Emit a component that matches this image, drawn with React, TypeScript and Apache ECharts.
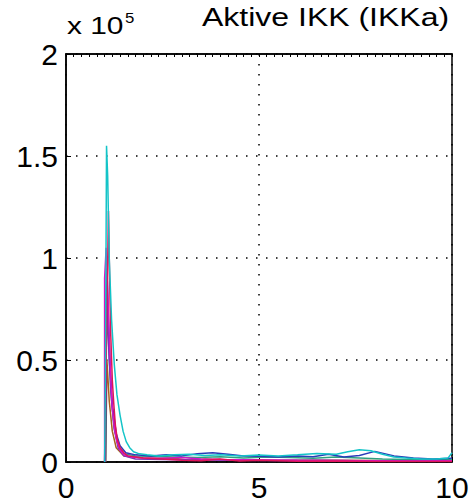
import React, { useEffect, useRef } from "react";
import * as echarts from "echarts";

const xTicks = [0, 5, 10];
const yTicks = [0, 0.5, 1, 1.5, 2];

const cyanT = [1.0, 1.02, 1.05, 1.08, 1.12, 1.18, 1.25, 1.32, 1.4, 1.48, 1.56, 1.65, 1.75, 1.9, 2.1, 2.4, 2.8, 3.2, 3.6, 4.0, 4.5, 5.0, 5.5, 6.0, 6.5, 7.0, 7.3, 7.6, 7.9, 8.2, 8.5, 8.8, 9.2, 9.6, 9.9, 10];
const cyanV = [0, 40000, 155000, 140000, 100000, 70000, 48000, 33000, 23000, 15000, 10000, 7000, 5000, 4000, 3500, 3000, 3500, 3800, 3200, 3600, 3000, 3400, 3000, 3500, 4200, 3800, 5000, 6000, 5500, 3800, 2500, 2000, 1500, 1500, 2000, 4500];

const redT = [1.0, 1.05, 1.1, 1.13, 1.16, 1.2, 1.24, 1.28, 1.33, 1.4, 1.5, 1.6, 1.8, 2.0, 2.5, 3.0, 3.5, 4.0, 4.5, 5.0, 5.5, 6.0, 7.0, 8.0, 9.0, 10];
const redV = [0, 60000, 123000, 90000, 62000, 40000, 28000, 18000, 11000, 7000, 4500, 3000, 2500, 2000, 1500, 800, 600, 1500, 500, 800, 600, 400, 500, 300, 200, 300];

const magentaT = [1.0, 1.0, 1.04, 1.08, 1.12, 1.16, 1.2, 1.26, 1.32, 1.4, 1.5, 1.7, 2.0, 2.5, 3.0, 3.5, 4.0, 5.0, 6.0, 7.0, 8.0, 9.0, 10];
const magentaV = [0, 90000, 105000, 85000, 60000, 40000, 26000, 16000, 10000, 6000, 3500, 2500, 2000, 1800, 2200, 1500, 1200, 1000, 800, 700, 600, 500, 600];

const blueT = [1.02, 1.06, 1.1, 1.15, 1.2, 1.3, 1.4, 1.55, 1.8, 2.2, 2.6, 3.0, 3.4, 3.8, 4.2, 4.6, 5.0, 5.5, 6.0, 6.4, 6.8, 7.2, 7.6, 8.0, 8.5, 9.0, 9.5, 10];
const blueV = [0, 95000, 70000, 45000, 28000, 14000, 8000, 4500, 3500, 3000, 3500, 3000, 4000, 4500, 3800, 3000, 2800, 2500, 3000, 2600, 3800, 2500, 3200, 5200, 3000, 2000, 1500, 1800];

const purpleT = [1.01, 1.03, 1.07, 1.12, 1.18, 1.25, 1.35, 1.5, 1.8, 2.5, 3.5, 4.5, 5.5, 6.5, 7.5, 8.5, 9.5, 10];
const purpleV = [0, 80000, 75000, 50000, 30000, 16000, 7000, 3000, 1500, 1200, 1000, 900, 700, 800, 600, 500, 500, 500];

const tealT = [1.02, 1.05, 1.1, 1.16, 1.24, 1.35, 1.5, 1.8, 2.2, 2.8, 3.4, 4.0, 4.6, 5.2, 5.8, 6.4, 7.0, 7.6, 8.2, 8.8, 9.4, 10];
const tealV = [0, 70000, 60000, 35000, 18000, 8000, 4000, 3000, 2800, 2500, 2200, 2600, 2000, 2400, 2200, 1800, 2500, 2000, 1500, 1200, 1000, 1200];

const brownT = [1.03, 1.06, 1.12, 1.2, 1.3, 1.5, 2.0, 2.8, 3.2, 3.6, 4.0, 5.0, 6.0, 7.0, 8.0, 9.0, 10];
const brownV = [0, 50000, 30000, 15000, 7000, 3000, 2000, 1800, 800, 1500, 1200, 1000, 900, 800, 700, 600, 600];

const seriesDefs = [
  { name: "brown", t: brownT, v: brownV, color: "#a86020" },
  { name: "teal", t: tealT, v: tealV, color: "#2fa080" },
  { name: "purple", t: purpleT, v: purpleV, color: "#7a35b5" },
  { name: "blue", t: blueT, v: blueV, color: "#2a3cb8" },
  { name: "magenta", t: magentaT, v: magentaV, color: "#d414c8" },
  { name: "red", t: redT, v: redV, color: "#e0145a" },
  { name: "cyan", t: cyanT, v: cyanV, color: "#14c4c8" },
];

export default function App() {
  const ref = useRef<HTMLDivElement>(null);
  useEffect(() => {
    if (!ref.current) return;
    const chart = echarts.init(ref.current, undefined, { renderer: "svg" });
    const font = "Liberation Sans, Arial, sans-serif";
    chart.setOption({
      animation: false,
      backgroundColor: "#ffffff",
      grid: {
        left: 66,
        right: 20,
        top: 54,
        bottom: 42,
        show: true,
        borderColor: "#000",
        borderWidth: 1.5,
        backgroundColor: "transparent",
      },
      graphic: [
        {
          type: "text",
          x: 202,
          y: 5,
          scaleX: 1.28,
          style: { text: "Aktive IKK (IKKa)", font: `25px ${font}`, fill: "#000", verticalAlign: "top" },
        },
        {
          type: "text",
          x: 67,
          y: 15,
          scaleX: 1.3,
          style: { text: "x 10", font: `23px ${font}`, fill: "#000", verticalAlign: "top" },
        },
        {
          type: "text",
          x: 125,
          y: 11,
          scaleX: 1.2,
          style: { text: "5", font: `14px ${font}`, fill: "#000", verticalAlign: "top" },
        },
      ],
      xAxis: [
        {
          type: "value",
          min: 0,
          max: 10,
          interval: 5,
          axisLine: { show: true, lineStyle: { color: "#000", width: 1.5 } },
          axisTick: { show: true, inside: true, length: 5, lineStyle: { color: "#000" } },
          axisLabel: {
            color: "#000",
            fontSize: 30,
            fontFamily: font,
            margin: 10,
            formatter: (v: number) => (xTicks.includes(v) ? String(v) : ""),
          },
          splitLine: { show: true, lineStyle: { color: "#000", type: [1.5, 8.5], width: 1.5 } },
        },
        {
          type: "value",
          position: "top",
          min: 0,
          max: 10,
          interval: 0.2,
          axisLine: { show: true, lineStyle: { color: "#000", width: 1.5 } },
          axisTick: { show: true, inside: true, length: 3, lineStyle: { color: "#000" } },
          axisLabel: { show: false },
          splitLine: { show: false },
        },
      ],
      yAxis: {
        type: "value",
        min: 0,
        max: 200000,
        interval: 50000,
        axisLine: { show: true, lineStyle: { color: "#000", width: 1.5 } },
        axisTick: { show: true, inside: true, length: 5, lineStyle: { color: "#000" } },
        axisLabel: {
          color: "#000",
          fontSize: 30,
          fontFamily: font,
          margin: 8,
          formatter: (v: number) => {
            const s = v / 100000;
            return yTicks.includes(s) ? String(s) : "";
          },
        },
        splitLine: { show: true, lineStyle: { color: "#000", type: [1.5, 8.5], width: 1.5 } },
      },
      series: seriesDefs.map((s) => ({
        name: s.name,
        type: "line",
        xAxisIndex: 0,
        showSymbol: false,
        symbol: "none",
        lineStyle: { color: s.color, width: 1.5 },
        data: s.t.map((t, i) => [t, s.v[i]]),
      })),
    });
    return () => chart.dispose();
  }, []);
  return (
    <div
      ref={ref}
      style={{ position: "fixed", left: 0, top: 0, width: 472, height: 504 }}
    />
  );
}
